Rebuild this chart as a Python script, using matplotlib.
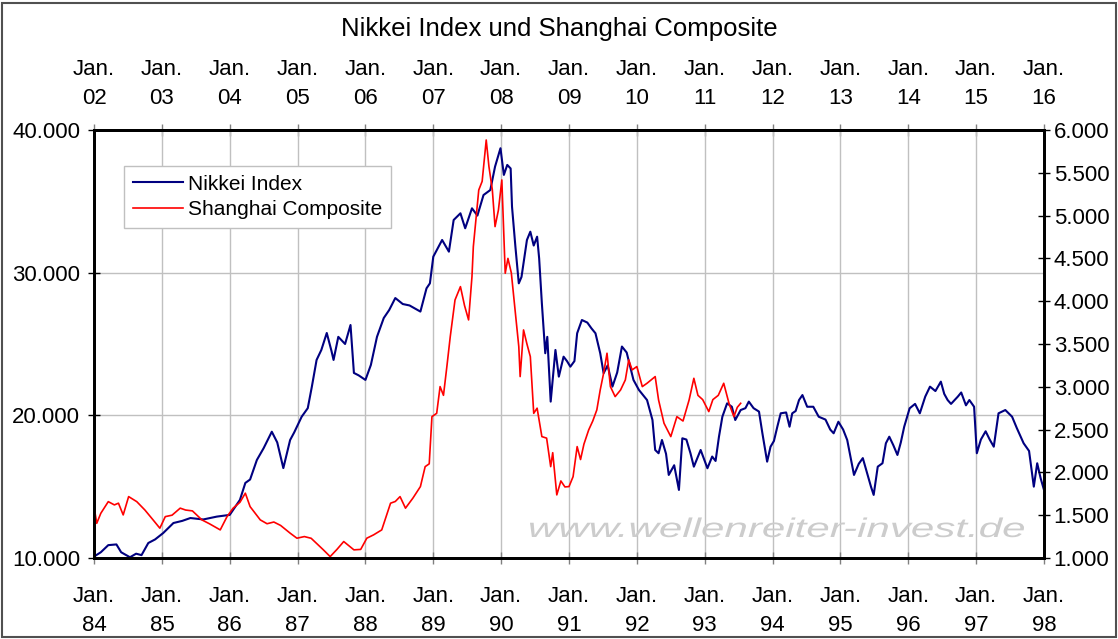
import matplotlib.pyplot as plt
from matplotlib.ticker import FuncFormatter, MultipleLocator
from matplotlib.patches import Rectangle, PathPatch
from matplotlib.textpath import TextPath
from matplotlib.font_manager import FontProperties
from matplotlib.transforms import Affine2D

plt.rcParams['font.family'] = ['Liberation Sans', 'DejaVu Sans']

# Nikkei: years since Jan 1984, index value
nikkei_t = [0.00, 0.10, 0.21, 0.33, 0.40, 0.53, 0.62, 0.70, 0.80, 0.90,
            1.02, 1.17, 1.30, 1.42, 1.61, 1.81, 2.00, 2.15, 2.23, 2.30,
            2.40, 2.50, 2.62, 2.70, 2.79, 2.89, 2.95, 3.06, 3.15, 3.21,
            3.28, 3.35, 3.43, 3.50, 3.53, 3.60, 3.70, 3.78, 3.83, 3.90,
            4.00, 4.08, 4.17, 4.27, 4.35, 4.44, 4.55, 4.65, 4.81, 4.90,
            4.95, 5.00, 5.13, 5.23, 5.30, 5.40, 5.47, 5.57, 5.65, 5.74,
            5.84, 5.91, 5.99, 6.04, 6.09, 6.14, 6.16, 6.21, 6.26, 6.30,
            6.38, 6.43, 6.48, 6.53, 6.56, 6.60, 6.65, 6.68, 6.73, 6.80,
            6.85, 6.92, 6.97, 7.02, 7.08, 7.12, 7.19, 7.27, 7.33, 7.39,
            7.46, 7.51, 7.57, 7.64, 7.71, 7.78, 7.85, 7.95, 8.03, 8.15,
            8.23, 8.27, 8.32, 8.37, 8.43, 8.47, 8.55, 8.62, 8.67, 8.73,
            8.79, 8.84, 8.94, 9.04, 9.11, 9.16, 9.21, 9.26, 9.33, 9.40,
            9.45, 9.53, 9.60, 9.65, 9.72, 9.80, 9.85, 9.92, 9.97, 10.02,
            10.07, 10.12, 10.20, 10.25, 10.29, 10.34, 10.39, 10.44, 10.51, 10.60,
            10.68, 10.78, 10.85, 10.90, 10.97, 11.04, 11.10, 11.20, 11.27, 11.33,
            11.39, 11.45, 11.49, 11.55, 11.62, 11.67, 11.72, 11.78, 11.84, 11.89,
            11.94, 12.02, 12.10, 12.17, 12.25, 12.32, 12.40, 12.48, 12.53, 12.58,
            12.63, 12.73, 12.78, 12.85, 12.90, 12.97, 13.01, 13.07, 13.14, 13.20,
            13.26, 13.33, 13.43, 13.53, 13.60, 13.70, 13.78, 13.85, 13.90, 13.95,
            14.00]
nikkei_v = [10100, 10400, 10900, 10950, 10400, 10050, 10300, 10200, 11050, 11300,
            11750, 12450, 12600, 12800, 12700, 12900, 13020, 14070, 15260, 15500,
            16870, 17700, 18850, 18100, 16300, 18270, 18800, 19900, 20500, 22000,
            23880, 24580, 25770, 24500, 23880, 25500, 25000, 26330, 22970, 22800,
            22480, 23530, 25500, 26820, 27380, 28220, 27800, 27700, 27270, 28900,
            29250, 31120, 32290, 31470, 33690, 34160, 33110, 34510, 34000, 35440,
            35790, 37430, 38720, 36850, 37550, 37300, 34630, 31820, 29250, 29700,
            32290, 32870, 31900, 32520, 31000, 27850, 24350, 25500, 20960, 24580,
            22710, 24110, 23800, 23410, 23800, 25750, 26680, 26500, 26100, 25750,
            24350, 22950, 23500, 22010, 23000, 24820, 24400, 22480, 21780, 21070,
            19670, 17570, 17340, 18270, 17300, 15820, 16500, 14770, 18390, 18300,
            17340, 16400, 17570, 16290, 17110, 16800, 18500, 19900, 20840, 20600,
            19670, 20370, 20500, 20960, 20500, 20260, 18740, 16750, 17800, 18200,
            19200, 20140, 20200, 19200, 20140, 20300, 21070, 21420, 20600, 20600,
            19900, 19700, 19000, 18740, 19550, 19000, 18270, 15820, 16600, 17000,
            16000, 15000, 14420, 16400, 16640, 18040, 18500, 17900, 17220, 18100,
            19200, 20490, 20800, 20140, 21310, 22010, 21700, 22360, 21500, 21070,
            20800, 21310, 21600, 20700, 21070, 20600, 17340, 18300, 18880, 18300,
            17800, 20140, 20370, 19900, 19100, 18040, 17500, 15000, 16640, 15600,
            14770]

# Shanghai Composite: years since Jan 2002, index value
shanghai_t = [0.00, 0.04, 0.10, 0.21, 0.30, 0.36, 0.43, 0.51, 0.63, 0.75,
              0.87, 0.97, 1.05, 1.15, 1.27, 1.35, 1.45, 1.59, 1.70, 1.86,
              1.96, 2.05, 2.15, 2.23, 2.30, 2.45, 2.55, 2.65, 2.75, 2.89,
              2.99, 3.10, 3.20, 3.38, 3.48, 3.58, 3.68, 3.83, 3.93, 4.02,
              4.12, 4.24, 4.37, 4.44, 4.51, 4.59, 4.70, 4.81, 4.88, 4.94,
              4.98, 5.05, 5.10, 5.15, 5.20, 5.25, 5.32, 5.40, 5.46, 5.52,
              5.57, 5.59, 5.67, 5.72, 5.78, 5.82, 5.87, 5.91, 5.96, 6.01,
              6.06, 6.10, 6.15, 6.21, 6.26, 6.28, 6.33, 6.38, 6.43, 6.48,
              6.53, 6.60, 6.67, 6.73, 6.76, 6.82, 6.88, 6.94, 7.00, 7.06,
              7.12, 7.17, 7.22, 7.29, 7.35, 7.41, 7.46, 7.51, 7.56, 7.61,
              7.68, 7.76, 7.83, 7.88, 7.93, 8.00, 8.08, 8.15, 8.27, 8.32,
              8.40, 8.50, 8.59, 8.68, 8.77, 8.84, 8.90, 8.97, 9.06, 9.12,
              9.20, 9.28, 9.36, 9.43, 9.48, 9.53]
shanghai_v = [1600, 1405, 1522, 1658, 1620, 1640, 1503, 1717, 1658, 1560,
              1445, 1348, 1483, 1500, 1582, 1560, 1550, 1445, 1400, 1328,
              1483, 1582, 1650, 1757, 1600, 1445, 1400, 1420, 1380, 1290,
              1231, 1250, 1230, 1095, 1016, 1100, 1192, 1095, 1100, 1231,
              1270, 1328, 1640, 1660, 1717, 1582, 1700, 1834, 2067, 2100,
              2651, 2690, 3002, 2900, 3236, 3586, 4014, 4170, 3950, 3781,
              4287, 4637, 5299, 5400, 5883, 5572, 5300, 4871, 5066, 5416,
              4326, 4500, 4330, 3859, 3469, 3119, 3664, 3500, 3352, 2690,
              2750, 2418, 2400, 2067, 2230, 1737, 1900, 1830, 1834, 1950,
              2301, 2150, 2330, 2496, 2600, 2730, 2963, 3158, 3392, 3002,
              2885, 2963, 3080, 3314, 3197, 3236, 3002, 3041, 3119, 2846,
              2574, 2418, 2651, 2600, 2846, 3099, 2900, 2850, 2710, 2850,
              2900, 3041, 2800, 2651, 2760, 2807]

bottom_labels = ['84', '85', '86', '87', '88', '89', '90', '91', '92', '93',
                 '94', '95', '96', '97', '98']
top_labels = ['02', '03', '04', '05', '06', '07', '08', '09', '10', '11',
              '12', '13', '14', '15', '16']

fig = plt.figure(figsize=(11.18, 6.39), dpi=100)
fig.patches.append(Rectangle((0.002, 0.003), 0.996, 0.993, transform=fig.transFigure,
                             fill=False, edgecolor='#505050', linewidth=1.5))
ax = fig.add_axes([0.0841, 0.1268, 0.8497, 0.6698])
ax2 = ax.twinx()

ax.plot(nikkei_t, nikkei_v, color='#000080', linewidth=1.5, label='Nikkei Index', zorder=3)
ax2.plot(shanghai_t, shanghai_v, color='#ff0000', linewidth=1.2, label='Shanghai Composite')

ax.set_xlim(0, 14)
ax.set_ylim(10000, 40000)
ax2.set_ylim(1000, 6000)

dot_fmt = FuncFormatter(lambda v, p: f'{int(v):,}'.replace(',', '.'))
ax.yaxis.set_major_locator(MultipleLocator(10000))
ax.yaxis.set_major_formatter(dot_fmt)
ax2.yaxis.set_major_locator(MultipleLocator(500))
ax2.yaxis.set_major_formatter(dot_fmt)

ticks = list(range(15))
ax.set_xticks(ticks)
ax.set_xticklabels(['Jan.\n' + s for s in bottom_labels], linespacing=1.5)
top = ax.secondary_xaxis('top')
top.set_xticks(ticks)
top.set_xticklabels(['Jan.\n' + s for s in top_labels], linespacing=1.5)

ax.grid(True, color='#c0c0c0', linewidth=1)
ax.set_axisbelow(True)

for a in (ax, ax2, top):
    a.tick_params(direction='inout', length=8, width=1, labelsize=16, colors='black')
    for s in a.spines.values():
        s.set_linewidth(2)
ax.tick_params(axis='x', pad=16, color='#808080')
top.tick_params(axis='x', pad=11, color='#808080')
ax.tick_params(axis='y', pad=6)
ax2.tick_params(axis='y', pad=3)

fig.text(0.5, 0.955, 'Nikkei Index und Shanghai Composite', ha='center', va='center',
         fontsize=18.5)

# watermark, stretched horizontally like the original
wm = TextPath((0, 0), 'www.wellenreiter-invest.de', size=1,
              prop=FontProperties(family='Liberation Sans', style='italic'))
ext = wm.get_extents()
w_in = 4.94
sx = w_in / ext.width
sy = 0.27
x0 = 5.30 - ext.x0 * sx
y0 = (639 - 537) / 100
ax.add_artist(PathPatch(wm, transform=Affine2D().scale(sx, sy).translate(x0, y0) + fig.dpi_scale_trans,
                        facecolor='#cccccc', edgecolor='none', zorder=1))

h1, l1 = ax.get_legend_handles_labels()
h2, l2 = ax2.get_legend_handles_labels()
leg = ax2.legend(h1 + h2, l1 + l2, loc='upper left', bbox_to_anchor=(0.0315, 0.916),
                 fontsize=15, fancybox=False, edgecolor='#c0c0c0', handlelength=2.4,
                 borderpad=0.42, labelspacing=0.3, handletextpad=0.25, framealpha=1,
                 borderaxespad=0)
leg.get_frame().set_linewidth(1)

fig.savefig('out.png', dpi=100)
